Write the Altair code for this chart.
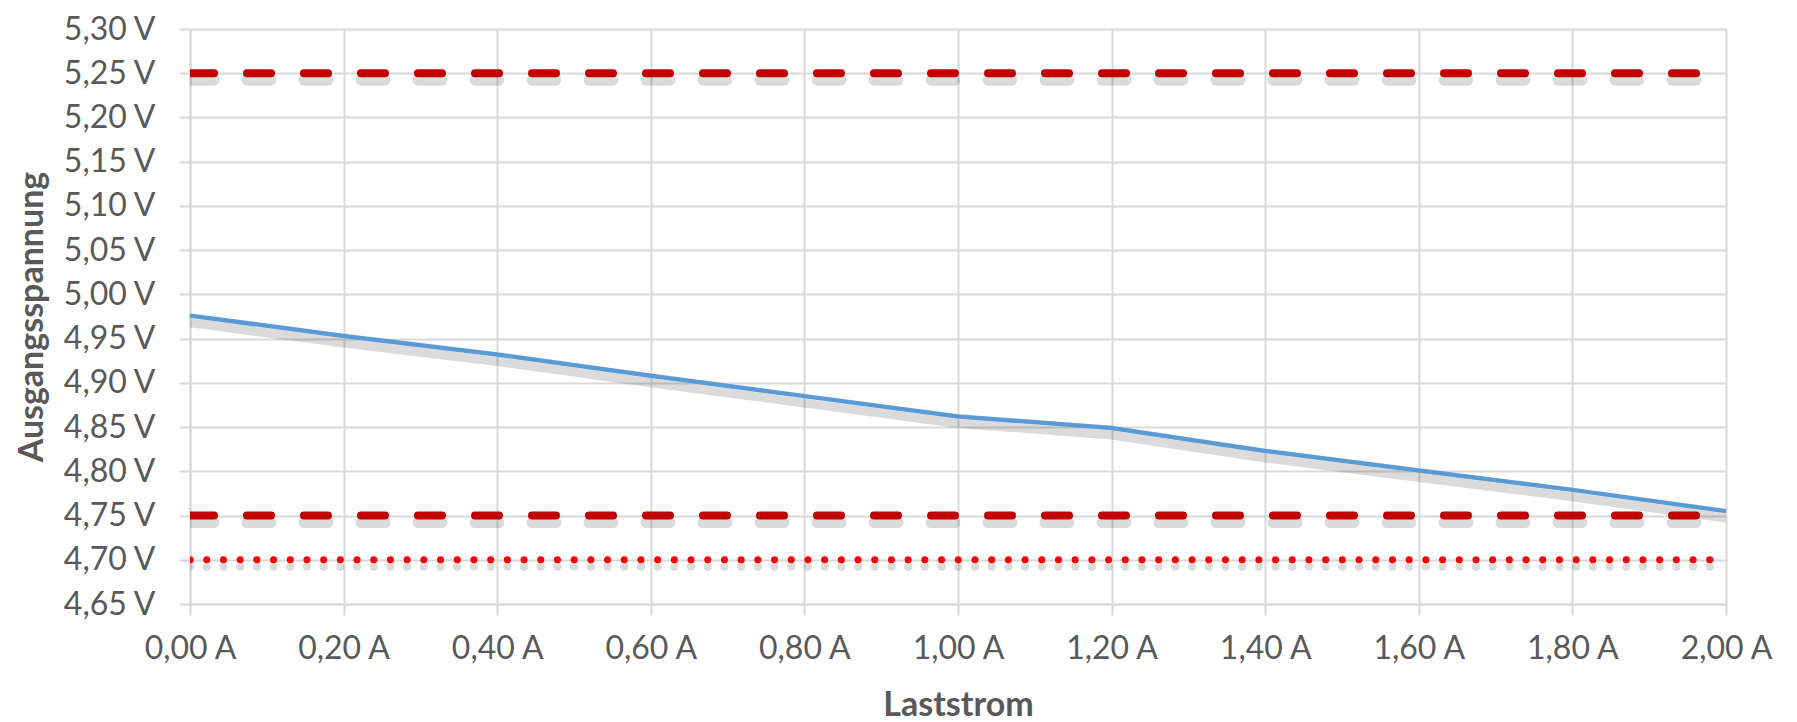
import altair as alt
import pandas as pd

# Messwerte
laststrom = [0.0, 0.2, 0.4, 0.6, 0.8, 1.0, 1.2, 1.4, 1.6, 1.8, 2.0]
ausgangsspannung = [4.976, 4.953, 4.932, 4.908, 4.885, 4.862, 4.849, 4.823, 4.801, 4.779, 4.755]

# Grenzwerte
grenz_x = [0.0, 2.0]
obere_grenze = 5.25
untere_grenze = 4.75
minimum = 4.70

# Achsenbeschriftung
x_ticks = [0.0, 0.2, 0.4, 0.6, 0.8, 1.0, 1.2, 1.4, 1.6, 1.8, 2.0]
y_ticks = [4.65, 4.70, 4.75, 4.80, 4.85, 4.90, 4.95, 5.00, 5.05, 5.10, 5.15, 5.20, 5.25, 5.30]

FONT = "Lato"
GRAY = "#595959"
GRID = "#D9D9D9"

messung = pd.DataFrame({"I": laststrom, "U": ausgangsspannung})
oben = pd.DataFrame({"I": grenz_x, "U": [obere_grenze] * 2})
unten = pd.DataFrame({"I": grenz_x, "U": [untere_grenze] * 2})
mini = pd.DataFrame({"I": grenz_x, "U": [minimum] * 2})

W, H = 1536, 575

x_enc = alt.X(
    "I:Q",
    scale=alt.Scale(domain=[0, 2], nice=False, zero=False),
    axis=alt.Axis(
        values=x_ticks,
        labelExpr="replace(format(datum.value, '.2f'), '.', ',') + ' A'",
        labelFlush=False,
        title="Laststrom",
        titleFont=FONT, titleFontSize=34, titleFontWeight="bold", titleColor=GRAY,
        titleY=111, titleX=W / 2, titleBaseline="alphabetic", titleAlign="center",
        labelFont=FONT, labelFontSize=32, labelColor=GRAY, labelPadding=18,
        grid=True, gridColor=GRID, gridWidth=2,
        tickColor=GRID, tickWidth=2, tickSize=11,
        domainColor=GRID, domainWidth=2,
    ),
)
y_enc = alt.Y(
    "U:Q",
    scale=alt.Scale(domain=[4.65, 5.30], nice=False, zero=False),
    axis=alt.Axis(
        values=y_ticks,
        labelExpr="replace(format(datum.value, '.2f'), '.', ',') + ' V'",
        labelFlush=False,
        title="Ausgangsspannung",
        titleFont=FONT, titleFontSize=34, titleFontWeight="bold", titleColor=GRAY,
        titleX=-158, titleY=H / 2, titleAngle=-90, titleBaseline="middle", titleAlign="center",
        labelFont=FONT, labelFontSize=32, labelColor=GRAY, labelPadding=24,
        grid=True, gridColor=GRID, gridWidth=2,
        tickColor=GRID, tickWidth=2, tickSize=11,
        domainColor=GRID, domainWidth=2,
    ),
)

def shadow(df, width, dash=None):
    kw = dict(color="#000000", opacity=0.14, strokeWidth=width, yOffset=7, clip=True)
    if dash:
        kw["strokeDash"] = dash
        kw["strokeCap"] = "round"
    return alt.Chart(df).mark_line(**kw).encode(x=x_enc, y=y_enc)

dash = [24, 33]
dots = [0.1, 16.6]

layers = [
    shadow(oben, 11, dash),
    shadow(unten, 11, dash),
    shadow(mini, 8, dots),
    shadow(messung, 9),
    alt.Chart(oben).mark_line(color="#C00000", strokeWidth=8, strokeDash=dash, strokeCap="round", clip=True).encode(x=x_enc, y=y_enc),
    alt.Chart(unten).mark_line(color="#C00000", strokeWidth=8, strokeDash=dash, strokeCap="round", clip=True).encode(x=x_enc, y=y_enc),
    alt.Chart(mini).mark_line(color="#FF0000", strokeWidth=7, strokeDash=dots, strokeCap="round", clip=True).encode(x=x_enc, y=y_enc),
    alt.Chart(messung).mark_line(color="#5B9BD5", strokeWidth=4.5).encode(x=x_enc, y=y_enc),
]

chart = alt.layer(*layers).properties(
    width=W,
    height=H,
    autosize=alt.AutoSizeParams(type="none"),
    padding={"left": 182, "top": 21, "right": 63, "bottom": 119},
    background="white",
).configure_view(stroke=None)

chart.save("out.html", embed_options={"renderer": "svg", "actions": False})
